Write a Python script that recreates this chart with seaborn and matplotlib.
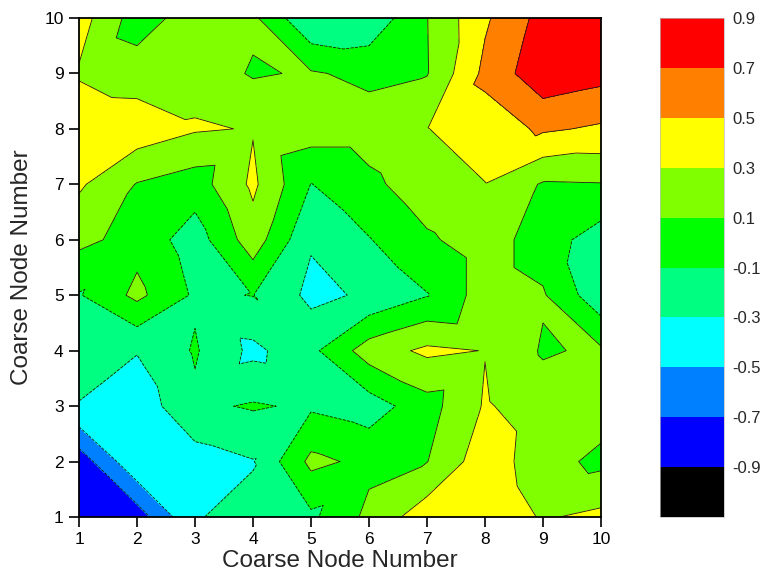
import numpy as np
import matplotlib
matplotlib.use("Agg")
import matplotlib.pyplot as plt
import matplotlib.tri as mtri
from matplotlib.colors import ListedColormap, BoundaryNorm
import seaborn as sns

# Grid node coordinates
x_nodes = [1, 2, 3, 4, 5, 6, 7, 8, 9, 10]
y_nodes = [1, 2, 3, 4, 5, 6, 7, 8, 9, 10]

# Field values, one list per row (y = 1 ... 10), columns x = 1 ... 10
row_1 = [-0.87, -0.81, -0.31, -0.25, -0.14, 0.15, 0.42, 0.45, 0.28, 0.35]
row_2 = [-0.82, -0.33, -0.39, -0.31, 0.15, 0.05, 0.095, 0.42, 0.18, 0.05]
row_3 = [-0.31, -0.42, -0.14, -0.08, -0.13, -0.20, 0.02, 0.32, 0.20, 0.20]
row_4 = [-0.20, -0.29, -0.08, -0.35, -0.15, 0.20, 0.34, 0.295, 0.08, 0.13]
row_5 = [-0.115, 0.15, -0.13, -0.095, -0.35, -0.27, -0.11, 0.20, 0.12, -0.24]
row_6 = [0.15, 0.03, -0.20, 0.21, -0.28, -0.11, 0.07, 0.20, 0.00, -0.20]
row_7 = [0.33, 0.09, 0.00, 0.34, -0.105, 0.05, 0.22, 0.295, 0.08, 0.09]
row_8 = [0.43, 0.42, 0.32, 0.29, 0.20, 0.20, 0.295, 0.40, 0.53, 0.47]
row_9 = [0.28, 0.20, 0.22, 0.08, 0.12, 0.05, 0.09, 0.55, 0.84, 0.77]
row_10 = [0.39, 0.00, 0.20, 0.14, -0.29, -0.25, 0.095, 0.47, 0.77, 0.85]

# Contour levels and band colours
levels = [-1.1, -0.9, -0.7, -0.5, -0.3, -0.1, 0.1, 0.3, 0.5, 0.7, 0.9]
tick_levels = [-0.9, -0.7, -0.5, -0.3, -0.1, 0.1, 0.3, 0.5, 0.7, 0.9]
band_colors = ["#000000", "#0000FF", "#0080FF", "#00FFFF", "#00FF80",
               "#00FF00", "#80FF00", "#FFFF00", "#FF8000", "#FF0000"]

# Mesh cells (named by lower-left node) split along the falling diagonal;
# all remaining cells are split along the rising diagonal.
falling_cells = [(1, 1), (2, 1), (4, 1), (1, 2), (2, 2), (4, 3), (5, 3),
                 (6, 3), (1, 4), (3, 4), (4, 4), (7, 4), (9, 4), (3, 5),
                 (5, 5), (9, 5), (4, 7), (7, 7), (2, 8), (3, 8), (5, 8),
                 (8, 8), (4, 9), (5, 9)]

sns.set_style("ticks")
plt.rcParams["font.family"] = ["Liberation Sans", "DejaVu Sans"]

Z = np.array([row_1, row_2, row_3, row_4, row_5,
              row_6, row_7, row_8, row_9, row_10])
X, Y = np.meshgrid(x_nodes, y_nodes)
nx, ny = len(x_nodes), len(y_nodes)


def node(i, j):
    return j * nx + i


triangles = []
for j in range(ny - 1):
    for i in range(nx - 1):
        a, b = node(i, j), node(i + 1, j)
        c, d = node(i, j + 1), node(i + 1, j + 1)
        if (x_nodes[i], y_nodes[j]) in falling_cells:
            triangles += [[a, b, c], [b, d, c]]
        else:
            triangles += [[a, b, d], [a, d, c]]
tri = mtri.Triangulation(X.ravel().astype(float), Y.ravel().astype(float),
                         np.array(triangles))

cmap = ListedColormap(band_colors)
norm = BoundaryNorm(levels, cmap.N)

fig = plt.figure(figsize=(7.61, 5.81), dpi=100)
ax = fig.add_axes([79 / 761, 64 / 581, 522 / 761, 499 / 581])
cax = fig.add_axes([660 / 761, 64 / 581, 64 / 761, 499 / 581])

cf = ax.tricontourf(tri, Z.ravel(), levels=levels, cmap=cmap, norm=norm)
ax.tricontour(tri, Z.ravel(), levels=levels, colors="#1a1a1a",
              linewidths=0.6)

ax.set_xlim(1, 10)
ax.set_ylim(1, 10)
ax.set_xticks(x_nodes)
ax.set_yticks(y_nodes)
ax.tick_params(axis="both", direction="out", length=7, width=1.2,
               labelsize=12.5, colors="black", top=False, right=False, pad=4)
for side in ["left", "bottom", "top", "right"]:
    ax.spines[side].set_visible(True)
    ax.spines[side].set_linewidth(1.3)
    ax.spines[side].set_color("black")
ax.set_xlabel("Coarse Node Number", fontsize=17.5, labelpad=2)
ax.set_ylabel("Coarse Node Number", fontsize=17.5, labelpad=8)

cb = fig.colorbar(cf, cax=cax)
cb.set_ticks(tick_levels)
cb.set_ticklabels([f"{v:g}" for v in tick_levels])
cb.ax.minorticks_off()
cb.ax.tick_params(which="both", length=0, labelsize=12, pad=6)
cb.outline.set_linewidth(0.5)
cb.outline.set_edgecolor("#bbbbbb")

fig.savefig("out.png", dpi=100)
